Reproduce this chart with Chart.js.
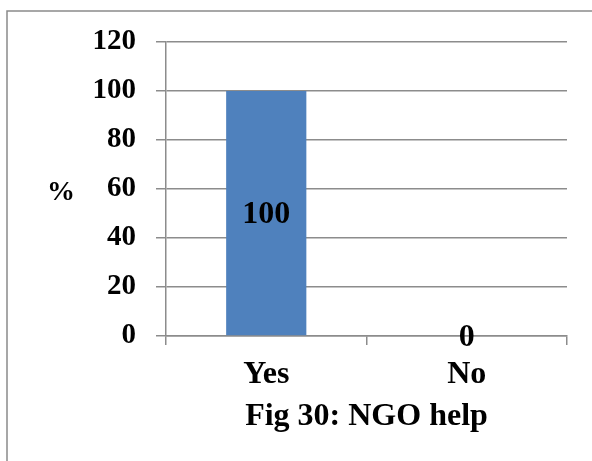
<!DOCTYPE html>
<html>
<head>
<meta charset="utf-8">
<script src="https://cdn.jsdelivr.net/npm/chart.js@4/dist/chart.umd.min.js"></script>
<style>
  html, body { margin: 0; padding: 0; background: #fff; }
  #wrap { width: 592px; height: 461px; position: relative; }
</style>
</head>
<body>
<div id="wrap"><canvas id="chart"></canvas></div>
<script>
const categories = ['Yes', 'No'];
const percentValues = [100, 0];
const yTickMax = 120;
const yTickStep = 20;

const serif = '"Liberation Serif", "Times New Roman", serif';
const gridGray = '#8c8c8c';

// frame, "%" label, bar value labels and the caption
const extras = {
  id: 'extras',
  afterDraw(chart) {
    const ctx = chart.ctx;
    const area = chart.chartArea;
    ctx.save();

    // outer frame, open on the right and bottom
    ctx.strokeStyle = '#8a8a8a';
    ctx.lineWidth = 1.5;
    ctx.beginPath();
    ctx.moveTo(7, 461);
    ctx.lineTo(7, 11);
    ctx.lineTo(592, 11);
    ctx.stroke();

    ctx.fillStyle = '#000';
    ctx.textAlign = 'center';
    ctx.textBaseline = 'middle';

    ctx.font = 'bold 28px ' + serif;
    ctx.fillText('%', 61, (area.top + area.bottom) / 2 + 4);

    // values centred inside each bar
    ctx.font = 'bold 32px ' + serif;
    const meta = chart.getDatasetMeta(0);
    meta.data.forEach((bar, i) => {
      const y = (bar.y + bar.base) / 2;
      ctx.fillText(String(percentValues[i]), bar.x, y + 2);
    });

    ctx.font = 'bold 32px ' + serif;
    ctx.fillText('Fig 30: NGO help', (area.left + area.right) / 2, 417);
    ctx.restore();
  }
};

new Chart(document.getElementById('chart'), {
  type: 'bar',
  data: {
    labels: categories,
    datasets: [{
      data: percentValues,
      backgroundColor: '#4f81bd',
      borderWidth: 0,
      barPercentage: 0.4,
      categoryPercentage: 1.0
    }]
  },
  options: {
    responsive: true,
    maintainAspectRatio: false,
    animation: false,
    layout: { padding: { left: 0, right: 25, top: 42, bottom: 0 } },
    plugins: {
      legend: { display: false },
      tooltip: { enabled: false }
    },
    scales: {
      x: {
        afterFit(scale) { scale.height = 125; },
        grid: {
          display: true,
          drawOnChartArea: false,
          drawTicks: true,
          tickLength: 9,
          color: gridGray,
          lineWidth: 1.5
        },
        border: { display: true, color: gridGray, width: 1.5 },
        ticks: {
          color: '#000',
          padding: 11,
          font: { family: serif, size: 32, weight: 'bold' }
        }
      },
      y: {
        min: 0,
        max: yTickMax,
        afterFit(scale) { scale.width = 166; },
        grid: {
          color: gridGray,
          lineWidth: 1.5,
          tickLength: 10,
          drawTicks: true
        },
        border: { display: true, color: gridGray, width: 1.5 },
        ticks: {
          stepSize: yTickStep,
          color: '#000',
          padding: 20,
          font: { family: serif, size: 29, weight: 'bold' }
        }
      }
    }
  },
  plugins: [extras]
});
</script>
</body>
</html>
